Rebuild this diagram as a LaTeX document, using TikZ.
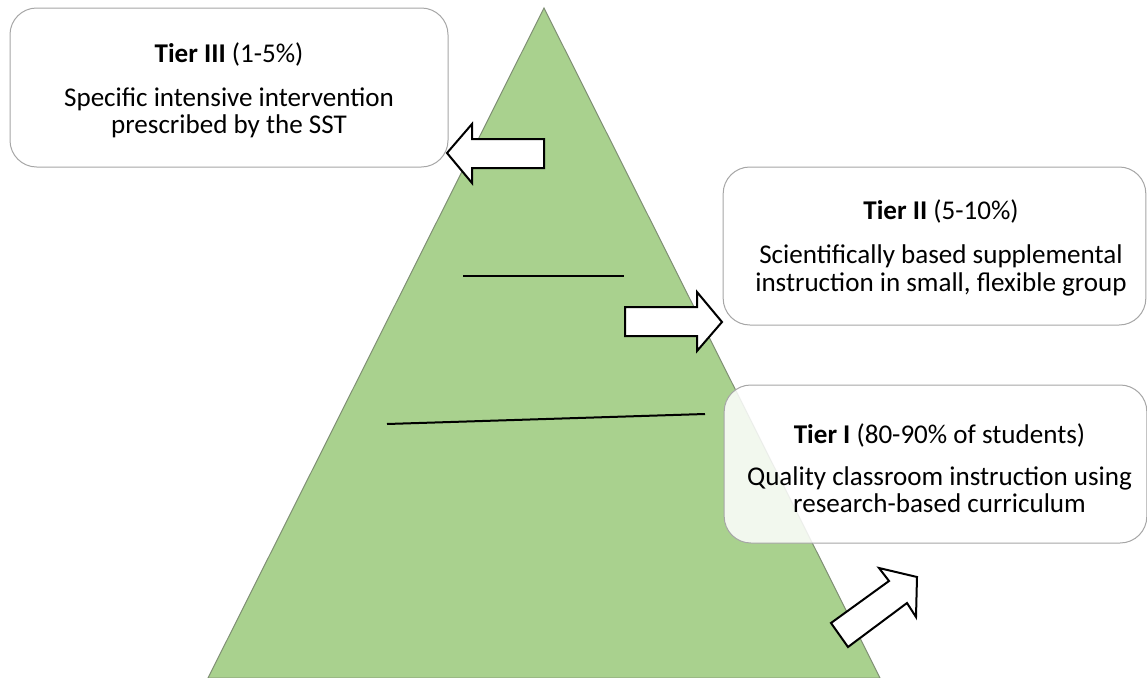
\documentclass[tikz,border=0pt]{standalone}
\usepackage{fontspec}
\setmainfont{Carlito}
\definecolor{pyramid}{HTML}{A9D18E}
\definecolor{pyramidline}{HTML}{7F8F74}
\definecolor{boxline}{HTML}{A6A6A6}

\begin{document}
\begin{tikzpicture}[x=0.75pt, y=-0.75pt,
    tier box/.style={draw=boxline, line width=0.75pt, rounded corners=20pt, fill=white, fill opacity=0.85, minimum width=317pt, minimum height=118.5pt},
    tier text/.style={align=center, inner sep=0pt, font=\fontsize{20.3}{20.6}\selectfont},
    block arrow/.style={draw, line width=1.5pt, fill=white}]
  \useasboundingbox (0,0) rectangle (1147,678);

  % pyramid
  \coordinate (top) at (544,8);
  \coordinate (left) at (208,678);
  \coordinate (right) at (880,678);
  \filldraw[fill=pyramid, draw=pyramidline, line width=0.75pt] (top) -- (left) -- (right) -- cycle;

  % dividers
  \coordinate (d1a) at (463,276);
  \coordinate (d1b) at (624,276);
  \coordinate (d2a) at (387,424);
  \coordinate (d2b) at (705,414);
  \draw[line width=1.5pt] (d1a) -- (d1b);
  \draw[line width=1.5pt] (d2a) -- (d2b);

  % arrows
  \draw[block arrow] (447,153) -- (472,124) -- (472,139) -- (544,139) -- (544,168) -- (472,168) -- (472,183) -- cycle;
  \draw[block arrow] (722,322) -- (697,292) -- (697,307) -- (625,307) -- (625,336) -- (697,336) -- (697,351) -- cycle;
  \draw[block arrow] (917,577) -- (879,568) -- (889,581) -- (831,623) -- (848,647) -- (907,603) -- (916,617) -- cycle;

  % tiers
  \node[tier box, minimum width=328.5pt, minimum height=119.25pt] (t3) at (229,87.5) {};
  \node[tier text] (t3text) at ([shift={(0,3)}]t3.center)
    {\textbf{Tier III} (1-5\%)\\[12.4pt]Specific intensive intervention\\prescribed by the SST};

  \node[tier box] (t2) at (934.5,246) {};
  \node[tier text] (t2text) at ([shift={(6.5,2)}]t2.center)
    {\textbf{Tier II} (5-10\%)\\[12.4pt]Scientifically based supplemental\\instruction in small, flexible group};

  \node[tier box] (t1) at (935.5,464) {};
  \node[tier text] (t1text) at ([shift={(4,4)}]t1.center)
    {\textbf{Tier I} (80-90\% of students)\\[11pt]Quality classroom instruction using\\research-based curriculum};
\end{tikzpicture}
\end{document}
